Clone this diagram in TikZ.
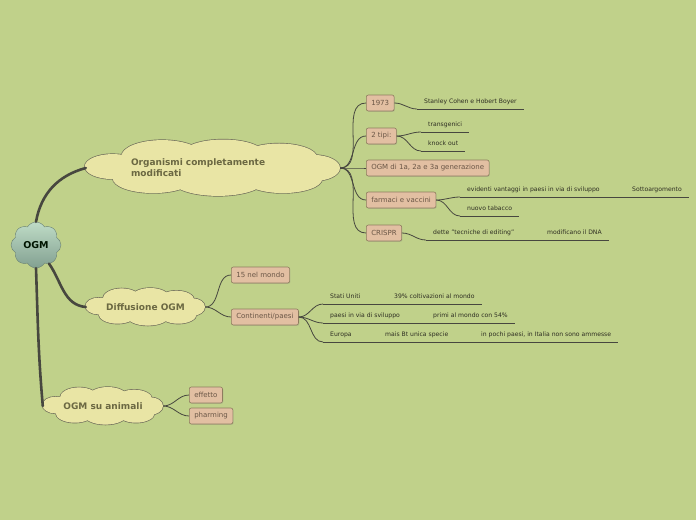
\documentclass[tikz,border=0pt]{standalone}
\usepackage{fontspec}
\setmainfont{DejaVu Sans}
\usepackage{xcolor}
\usepackage{tikz}
\usetikzlibrary{shapes.symbols, shapes.geometric, shadows}

\definecolor{bgcol}{HTML}{C0D18A}
\definecolor{cloudfill}{HTML}{E9E5A5}
\definecolor{cloudline}{HTML}{6E6C5A}
\definecolor{boxfill}{HTML}{E2BFA2}
\definecolor{boxline}{HTML}{8E7C5E}
\definecolor{boxtext}{HTML}{6A5646}
\definecolor{topictext}{HTML}{6B6842}
\definecolor{leaftext}{HTML}{2E2E22}
\definecolor{branch}{HTML}{47473F}
\definecolor{ogmtop}{HTML}{BFDCC6}
\definecolor{ogmbot}{HTML}{82A091}

% lobes of a topic cloud, in units of its half width / half height
\newcommand{\cloudlobes}{%
  (-0.79,-0.05) ellipse [x radius=0.22, y radius=0.44]
  (0.79,0) ellipse [x radius=0.21, y radius=0.46]
  (-0.40,-0.42) ellipse [x radius=0.32, y radius=0.56]
  (0.08,-0.50) ellipse [x radius=0.32, y radius=0.50]
  (0.52,-0.36) ellipse [x radius=0.30, y radius=0.50]
  (-0.47,0.36) ellipse [x radius=0.32, y radius=0.52]
  (0.04,0.45) ellipse [x radius=0.36, y radius=0.53]
  (0.55,0.38) ellipse [x radius=0.31, y radius=0.50]
  (0,0) ellipse [x radius=0.86, y radius=0.62]}
\newcommand{\topiccloud}[4]{%
  \begin{scope}[shift={(#1,#2)}, xscale=#3, yscale=#4]
    \draw[cloudline, line width=1.3pt] \cloudlobes;
    \fill[cloudfill] \cloudlobes;
  \end{scope}}

\begin{document}
\begin{tikzpicture}[
  x=1pt, y=-1pt,
  central/.style={cloud, cloud puffs=8, cloud puff arc=120, cloud ignores aspect,
                  minimum width=50pt, minimum height=46pt, draw=ogmbot!80!black,
                  top color=ogmtop, bottom color=ogmbot, line width=0.4pt,
                  font=\fontsize{9.5}{11}\selectfont\bfseries, text=black!80!green!40!black},
  topic/.style={ellipse, inner sep=0pt,
                font=\fontsize{9}{11}\selectfont\bfseries, text=topictext},
  subbox/.style={rectangle, rounded corners=2pt, draw=boxline, fill=boxfill,
                 line width=0.6pt, anchor=west, minimum height=16pt,
                 inner xsep=5pt, inner ysep=0pt, text=boxtext,
                 font=\fontsize{7}{8}\selectfont,
                 drop shadow={shadow xshift=0.8pt, shadow yshift=-0.8pt, opacity=0.25}},
  leaf/.style={anchor=south west, inner xsep=7pt, inner ysep=3pt, text depth=2pt,
               text=leaftext, font=\fontsize{6.1}{7}\selectfont},
  main/.style={line width=2.6pt, draw=branch, line cap=round},
  sub/.style={line width=0.8pt, draw=branch},
  leafline/.style={line width=0.8pt, draw=branch},
]
  \fill[bgcol] (0,0) rectangle (696,520);
  \useasboundingbox (0,0) rectangle (696,520);

  \topiccloud{213}{168}{127}{28.5}
  \topiccloud{145.5}{307}{59.5}{19}
  \topiccloud{103}{406}{60}{19}

  \node[central] (ogm) at (36,245) {OGM};
  \node[topic, minimum width=254pt, minimum height=57pt, text width=164pt, align=left]
    (org) at (213,168) {Organismi completamente\\modificati};
  \node[topic, minimum width=119pt, minimum height=38pt] (diff) at (145.5,307) {Diffusione OGM};
  \node[topic, minimum width=120pt, minimum height=38pt] (anim) at (103,406) {OGM su animali};

  \node[subbox] (b1973) at (366,103) {1973};
  \node[subbox] (btipi) at (366,136) {2 tipi:};
  \node[subbox] (bgen) at (366,168) {OGM di 1a, 2a e 3a generazione};
  \node[subbox] (bfarm) at (366,200) {farmaci e vaccini};
  \node[subbox] (bcrispr) at (366,233) {CRISPR};
  \node[subbox] (bmondo) at (231,275) {15 nel mondo};
  \node[subbox] (bcont) at (231,317) {Continenti/paesi};
  \node[subbox] (beff) at (189,395) {effetto};
  \node[subbox] (bpharm) at (189,416) {pharming};

  \node[leaf] (cohen) at (417,109) {Stanley Cohen e Hobert Boyer};
  \node[leaf] (transg) at (421,132) {transgenici};
  \node[leaf] (knock) at (421,151) {knock out};
  \node[leaf] (vantaggi) at (460,197) {evidenti vantaggi in paesi in via di sviluppo};
  \node[leaf] (sotto) at (625,197) {Sottoargomento};
  \node[leaf] (tabacco) at (460,216) {nuovo tabacco};
  \node[leaf] (editing) at (426,240) {dette "tecniche di editing"};
  \node[leaf] (dna) at (540,240) {modificano il DNA};
  \node[leaf] (usa) at (323,304) {Stati Uniti};
  \node[leaf] (coltiv) at (387,304) {39\% coltivazioni al mondo};
  \node[leaf] (pvs) at (323,323) {paesi in via di sviluppo};
  \node[leaf] (primi) at (426,323) {primi al mondo con 54\%};
  \node[leaf] (europa) at (323,342) {Europa};
  \node[leaf] (mais) at (378,342) {mais Bt unica specie};
  \node[leaf] (pochi) at (474,342) {in pochi paesi, in Italia non sono ammesse};

  \draw[main] (ogm.north) to[out=80,in=195] (org.west);
  \draw[main] (ogm.-55) to[out=-55,in=175] (diff.west);
  \draw[main] (ogm.south) to[out=-88,in=95] (anim.west);

  \foreach \b in {b1973,btipi,bgen,bfarm,bcrispr}
    \draw[sub] (org.east) to[out=0,in=180] (\b.west);
  \foreach \b in {bmondo,bcont}
    \draw[sub] (diff.east) to[out=0,in=180] (\b.west);
  \foreach \b in {beff,bpharm}
    \draw[sub] (anim.east) to[out=0,in=180] (\b.west);

  \draw[sub] (b1973.east) to[out=0,in=180] (cohen.south west);
  \draw[sub] (btipi.east) to[out=0,in=180] (transg.south west);
  \draw[sub] (btipi.east) to[out=0,in=180] (knock.south west);
  \draw[sub] (bfarm.east) to[out=0,in=180] (vantaggi.south west);
  \draw[sub] (bfarm.east) to[out=0,in=180] (tabacco.south west);
  \draw[sub] (bcrispr.east) to[out=0,in=180] (editing.south west);
  \foreach \l in {usa,pvs,europa}
    \draw[sub] (bcont.east) to[out=0,in=180] (\l.south west);

  \foreach \l in {cohen,transg,knock,vantaggi,sotto,tabacco,editing,dna,
                  usa,coltiv,pvs,primi,europa,mais,pochi}
    \draw[leafline] (\l.south west) -- (\l.south east);
  \draw[leafline] (vantaggi.south east) -- (sotto.south west);
  \draw[leafline] (editing.south east) -- (dna.south west);
  \draw[leafline] (usa.south east) -- (coltiv.south west);
  \draw[leafline] (pvs.south east) -- (primi.south west);
  \draw[leafline] (europa.south east) -- (mais.south west);
  \draw[leafline] (mais.south east) -- (pochi.south west);
\end{tikzpicture}
\end{document}
